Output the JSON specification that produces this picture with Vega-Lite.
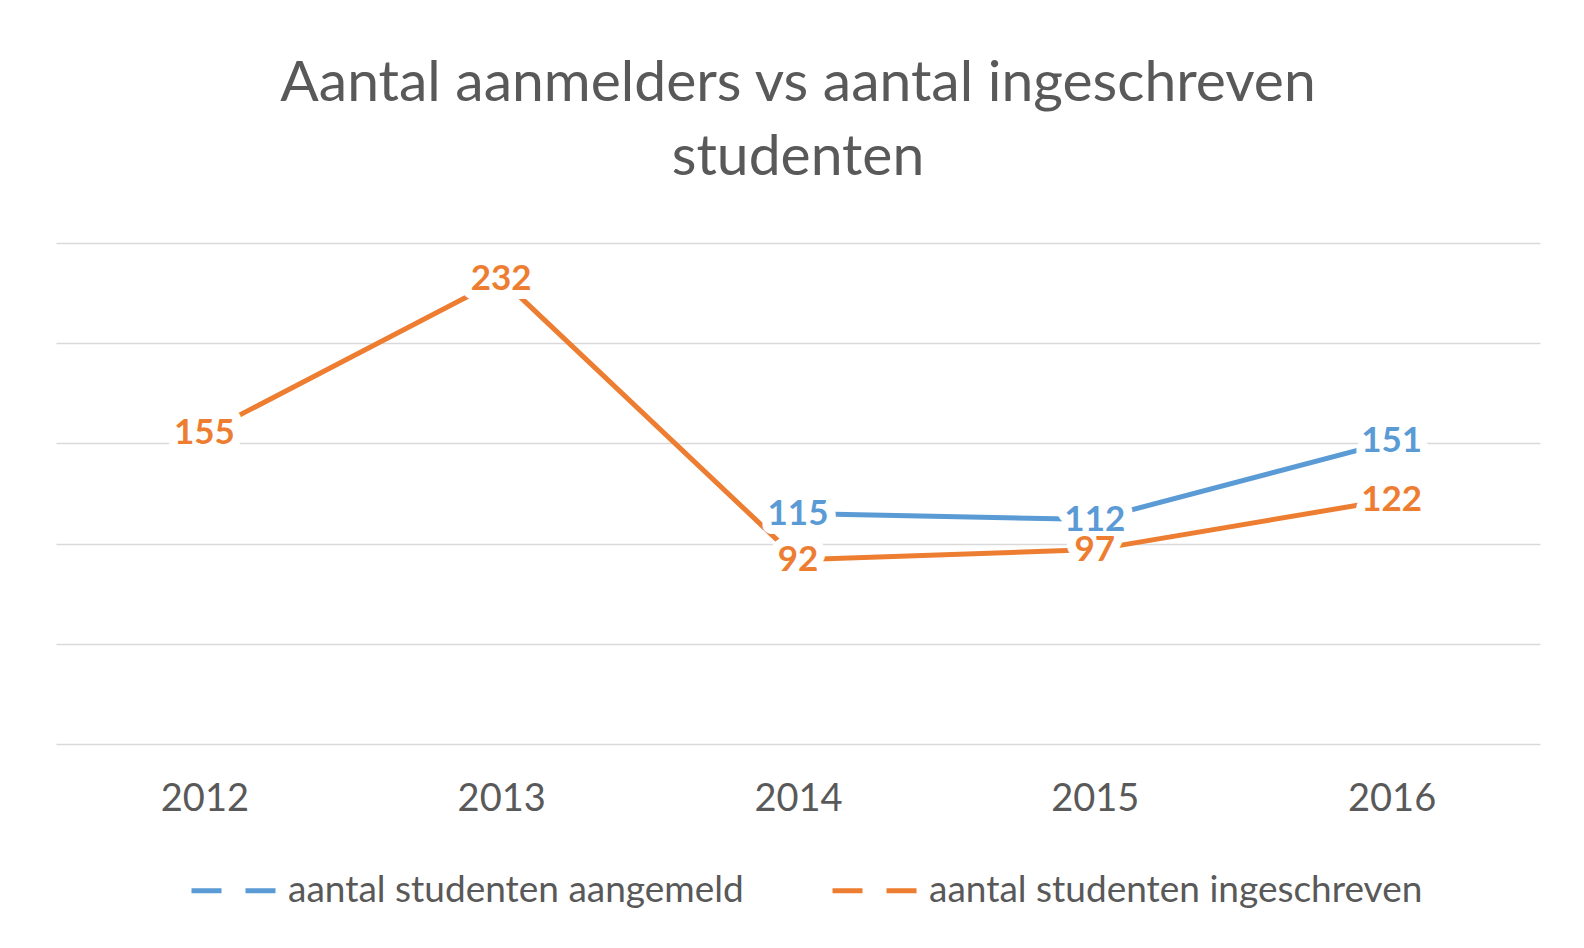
{
  "$schema": "https://vega.github.io/schema/vega-lite/v6.json",
  "width": 1484,
  "height": 501,
  "autosize": {"type": "none"},
  "padding": {"left": 56, "top": 243, "right": 44, "bottom": 204},
  "background": "white",
  "title": {
    "text": ["Aantal aanmelders vs aantal ingeschreven", "studenten"],
    "font": "Lato",
    "fontSize": 57,
    "fontWeight": "normal",
    "color": "#595959",
    "lineHeight": 74,
    "anchor": "middle",
    "offset": 56
  },
  "data": {
    "values": [
      {"year": "2012", "series": "aantal studenten ingeschreven", "value": 155},
      {"year": "2013", "series": "aantal studenten ingeschreven", "value": 232},
      {"year": "2014", "series": "aantal studenten ingeschreven", "value": 92},
      {"year": "2015", "series": "aantal studenten ingeschreven", "value": 97},
      {"year": "2016", "series": "aantal studenten ingeschreven", "value": 122},
      {"year": "2014", "series": "aantal studenten aangemeld", "value": 115},
      {"year": "2015", "series": "aantal studenten aangemeld", "value": 112},
      {"year": "2016", "series": "aantal studenten aangemeld", "value": 151}
    ]
  },
  "encoding": {
    "x": {
      "field": "year",
      "type": "ordinal",
      "scale": {"type": "point", "padding": 0.5},
      "axis": {
        "title": null,
        "labelAngle": 0,
        "labelFont": "Lato",
        "labelFontSize": 38,
        "labelColor": "#595959",
        "labelPadding": 36,
        "ticks": false,
        "domain": false,
        "grid": false
      }
    },
    "y": {
      "field": "value",
      "type": "quantitative",
      "scale": {"domain": [0, 250], "nice": false},
      "axis": {
        "title": null,
        "values": [0, 50, 100, 150, 200, 250],
        "labels": false,
        "ticks": false,
        "domain": false,
        "grid": true,
        "gridColor": "#d9d9d9",
        "gridWidth": 1.5
      }
    }
  },
  "layer": [
    {
      "mark": {"type": "line", "strokeWidth": 5},
      "encoding": {
        "color": {
          "field": "series",
          "type": "nominal",
          "scale": {
            "domain": ["aantal studenten aangemeld", "aantal studenten ingeschreven"],
            "range": ["#5B9BD5", "#ED7D31"]
          },
          "legend": {
            "title": null,
            "orient": "none",
            "direction": "horizontal",
            "legendX": 133,
            "legendY": 603,
            "symbolType": "stroke",
            "symbolSize": 7056,
            "symbolStrokeWidth": 5,
            "symbolDash": [30, 24],
            "labelFont": "Lato",
            "labelFontSize": 37,
            "labelColor": "#595959",
            "labelOffset": 10,
            "columnPadding": 78,
            "labelLimit": 1000
          }
        }
      }
    },
    {
      "mark": {
        "type": "text",
        "font": "Lato",
        "fontSize": 35,
        "fontWeight": "bold",
        "fill": "white",
        "stroke": "white",
        "strokeWidth": 18,
        "strokeJoin": "round",
        "baseline": "middle",
        "align": "center"
      },
      "encoding": {"text": {"field": "value", "type": "quantitative"}}
    },
    {
      "mark": {
        "type": "text",
        "font": "Lato",
        "fontSize": 35,
        "fontWeight": "bold",
        "baseline": "middle",
        "align": "center"
      },
      "encoding": {
        "text": {"field": "value", "type": "quantitative"},
        "color": {"field": "series", "type": "nominal", "legend": null}
      }
    }
  ],
  "config": {"view": {"stroke": null}}
}
